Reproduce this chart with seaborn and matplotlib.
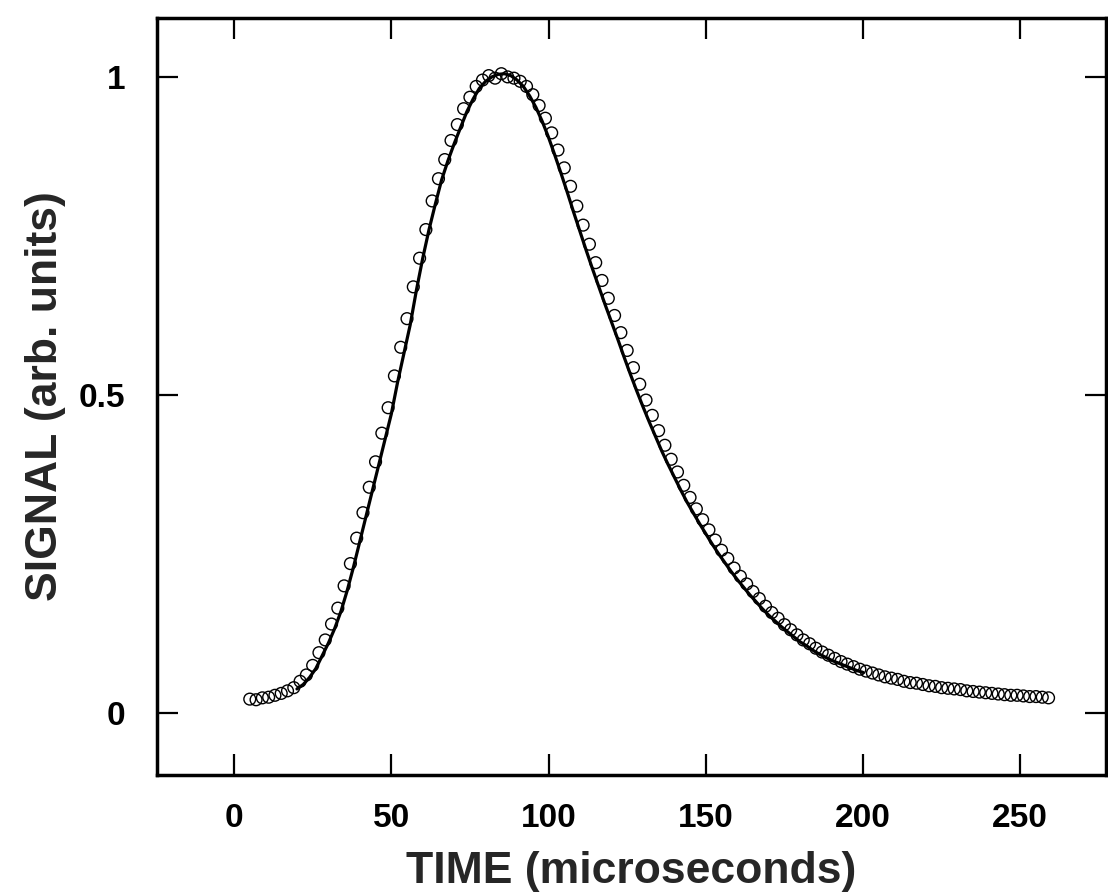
import numpy as np
import pandas as pd
import matplotlib
matplotlib.use("Agg")
import matplotlib.pyplot as plt
import seaborn as sns

# ---- measured signal (open circles) ----
time_data = [5, 7, 9, 11, 13, 15, 17, 19, 21, 23, 25, 27, 29, 31, 33, 35, 37, 39,
             41, 43, 45, 47, 49, 51, 53, 55, 57, 59, 61, 63, 65, 67, 69, 71, 73, 75,
             77, 79, 81, 83, 85, 87, 89, 91, 93, 95, 97, 99, 101, 103, 105, 107, 109,
             111, 113, 115, 117, 119, 121, 123, 125, 127, 129, 131, 133, 135, 137,
             139, 141, 143, 145, 147, 149, 151, 153, 155, 157, 159, 161, 163, 165,
             167, 169, 171, 173, 175, 177, 179, 181, 183, 185, 187, 189, 191, 193,
             195, 197, 199, 201, 203, 205, 207, 209, 211, 213, 215, 217, 219, 221,
             223, 225, 227, 229, 231, 233, 235, 237, 239, 241, 243, 245, 247, 249,
             251, 253, 255, 257, 259]
signal_data = [0.022, 0.021, 0.024, 0.025, 0.028, 0.031, 0.035, 0.040, 0.050, 0.060,
               0.075, 0.095, 0.115, 0.140, 0.165, 0.200, 0.235, 0.275, 0.315, 0.355,
               0.395, 0.440, 0.480, 0.530, 0.575, 0.620, 0.670, 0.715, 0.760, 0.805,
               0.840, 0.870, 0.900, 0.925, 0.950, 0.968, 0.985, 0.995, 1.002, 0.998,
               1.005, 1.000, 0.998, 0.993, 0.985, 0.972, 0.955, 0.935, 0.912, 0.885,
               0.857, 0.828, 0.797, 0.767, 0.737, 0.708, 0.680, 0.652, 0.625, 0.598,
               0.570, 0.543, 0.517, 0.492, 0.468, 0.444, 0.421, 0.399, 0.379, 0.358,
               0.339, 0.321, 0.304, 0.288, 0.272, 0.256, 0.243, 0.228, 0.215, 0.203,
               0.191, 0.180, 0.168, 0.158, 0.149, 0.139, 0.131, 0.123, 0.115, 0.109,
               0.102, 0.096, 0.091, 0.086, 0.081, 0.077, 0.073, 0.069, 0.066, 0.063,
               0.060, 0.057, 0.055, 0.053, 0.050, 0.048, 0.047, 0.045, 0.043, 0.042,
               0.040, 0.039, 0.038, 0.037, 0.035, 0.034, 0.033, 0.032, 0.031, 0.030,
               0.029, 0.028, 0.028, 0.027, 0.026, 0.026, 0.025, 0.024]

# ---- fitted curve (solid line) ----
time_fit = [20, 22, 24, 26, 28, 30, 32, 34, 36, 38, 40, 42, 44, 46, 48, 50, 52, 54,
            56, 58, 60, 62, 64, 66, 68, 70, 72, 74, 76, 78, 80, 82, 84, 86, 88, 90,
            92, 94, 96, 98, 100, 102, 104, 106, 108, 110, 112, 114, 116, 118, 120,
            122, 124, 126, 128, 130, 132, 134, 136, 138, 140, 142, 144, 146, 148,
            150, 152, 154, 156, 158, 160, 162, 164, 166, 168, 170, 172, 174, 176,
            178, 180, 182, 184, 186, 188, 190, 192, 194, 196, 198, 200]
signal_fit = [0.038, 0.045, 0.056, 0.070, 0.090, 0.110, 0.133, 0.160, 0.193, 0.230,
              0.270, 0.310, 0.350, 0.390, 0.430, 0.470, 0.520, 0.565, 0.610, 0.665,
              0.715, 0.760, 0.800, 0.838, 0.868, 0.895, 0.920, 0.945, 0.965, 0.982,
              0.993, 1.000, 1.004, 1.005, 1.002, 0.995, 0.985, 0.970, 0.952, 0.930,
              0.905, 0.877, 0.848, 0.818, 0.787, 0.757, 0.727, 0.698, 0.670, 0.642,
              0.615, 0.588, 0.560, 0.533, 0.507, 0.482, 0.458, 0.435, 0.412, 0.391,
              0.371, 0.351, 0.332, 0.315, 0.298, 0.282, 0.266, 0.251, 0.237, 0.223,
              0.210, 0.198, 0.186, 0.175, 0.164, 0.154, 0.145, 0.136, 0.128, 0.120,
              0.112, 0.106, 0.099, 0.093, 0.088, 0.083, 0.079, 0.075, 0.071, 0.067,
              0.064]

x_ticks = [0, 50, 100, 150, 200, 250]
x_tick_labels = ["0", "50", "100", "150", "200", "250"]
y_ticks = [0, 0.5, 1]
y_tick_labels = ["0", "0.5", "1"]

sns.set_theme(style="ticks")
plt.rcParams["font.family"] = ["Liberation Sans", "DejaVu Sans"]

df_data = pd.DataFrame({"t": time_data, "s": signal_data})
df_fit = pd.DataFrame({"t": time_fit, "s": signal_fit})

fig = plt.figure(figsize=(11.08, 8.92), dpi=100)
ax = fig.add_axes([0.1417, 0.131, 0.8563, 0.849])

sns.scatterplot(data=df_data, x="t", y="s", ax=ax, marker="o", s=72,
                facecolor="none", edgecolor="black", linewidth=1.0, zorder=2)
sns.lineplot(data=df_fit, x="t", y="s", ax=ax, color="black", linewidth=2.3,
             sort=False, estimator=None, zorder=3)

ax.set_xlim(-24.5, 277.2)
ax.set_ylim(-0.0975, 1.0928)
ax.set_xticks(x_ticks)
ax.set_xticklabels(x_tick_labels)
ax.set_yticks(y_ticks)
ax.set_yticklabels(y_tick_labels)

ax.tick_params(axis="both", direction="in", length=15, width=1.6,
               top=True, right=True, labelsize=24, colors="black")
ax.tick_params(axis="x", pad=20)
ax.tick_params(axis="y", pad=23)
for lab in ax.get_xticklabels() + ax.get_yticklabels():
    lab.set_fontweight("bold")

for sp in ax.spines.values():
    sp.set_visible(True)
    sp.set_linewidth(2.5)
    sp.set_color("black")

ax.set_xlabel("TIME (microseconds)", fontsize=32, fontweight="bold", labelpad=12)
ax.set_ylabel("SIGNAL (arb. units)", fontsize=32, fontweight="bold", labelpad=9)

fig.savefig("out.png", dpi=100, facecolor="white")
